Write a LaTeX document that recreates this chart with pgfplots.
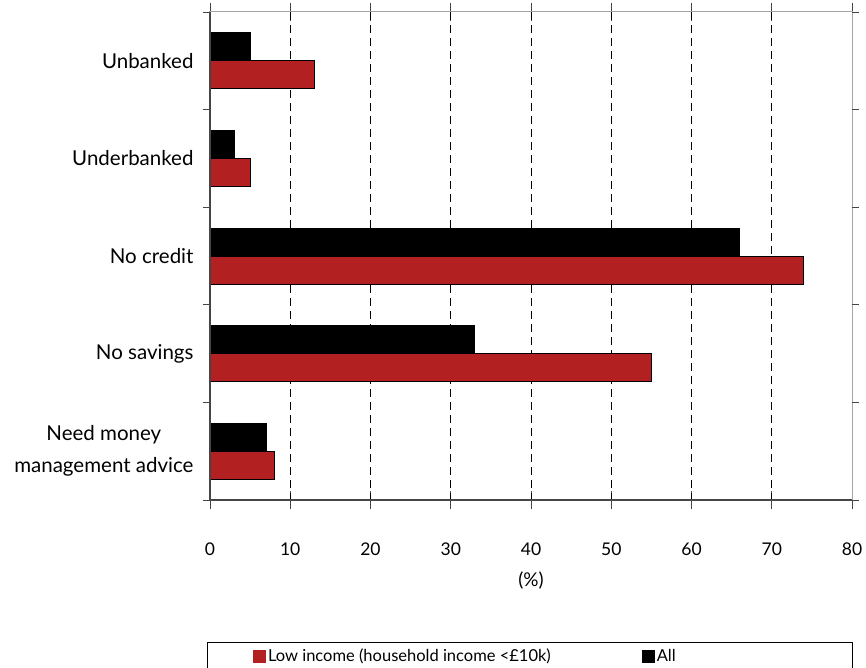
\documentclass[border=0pt]{standalone}
\usepackage{pgfplots}
\pgfplotsset{compat=1.18}
\usepackage{fontspec}
\setmainfont{Lato}
\definecolor{lowred}{RGB}{178,32,34}
\definecolor{frameg}{RGB}{165,165,165}
\definecolor{axisg}{RGB}{70,70,70}
\begin{document}
\begin{tikzpicture}
\begin{axis}[
  scale only axis, width=642pt, height=488pt,
  xbar, xmin=0, xmax=80, ymin=-0.5, ymax=4.5, y dir=reverse,
  bar width=28pt,
  /pgf/number format/assume math mode=true,
  ticklabel style={font=\fontsize{17.5}{20}\selectfont},
  xtick={0,10,...,80},
  xtick style={draw=axisg, line width=0.8pt},
  tick align=center, major tick length=18pt,
  xticklabel style={yshift=-30pt},
  extra x ticks={10,20,...,70},
  extra x tick labels={},
  extra x tick style={grid=major, major tick length=0pt},
  grid style={black, line width=0.9pt, dash pattern=on 8pt off 5pt},
  ytick={0,1,2,3,4},
  yticklabels={Unbanked, Underbanked, No credit, No savings, {Need money\\management advice}},
  yticklabel style={align=center, font=\fontsize{20.5}{32}\selectfont, xshift=-4pt},
  ytick style={draw=none},
  extra y ticks={-0.5,0.5,1.5,2.5,3.5,4.5},
  extra y tick labels={},
  extra y tick style={ytick style={draw=axisg, line width=0.8pt}, tick align=outside, major tick length=7pt},
  axis line style={draw=frameg, line width=1pt},
  xlabel={(\%)},
  xlabel style={font=\fontsize{19}{22}\selectfont, yshift=-1pt},
  legend columns=2,
  reverse legend,
  legend style={draw=none, fill=none, at={(axis description cs:0.067,-0.3197)}, anchor=west, inner sep=0pt,
    font=\fontsize{16.5}{20}\selectfont,
    nodes={inner xsep=2pt, inner ysep=2pt}},
]
\addplot[fill=black, draw=black, line width=0.8pt, bar shift=14pt,
  legend image code/.code={\fill[black] (0pt,-6pt) rectangle (12pt,6pt);}]
  coordinates {(5,0) (3,1) (66,2) (33,3) (7,4)};
\addplot[fill=lowred, draw=black, line width=0.8pt, bar shift=-14pt,
  legend image code/.code={\fill[lowred] (0pt,-6pt) rectangle (12pt,6pt);}]
  coordinates {(13,0) (5,1) (74,2) (55,3) (8,4)};
\legend{All, \makebox[372pt][l]{Low income (household income <£10k)}}
\end{axis}
\draw[axisg, line width=1.4pt] (0pt,488pt) -- (0pt,0pt) -- (642pt,0pt);
\draw[black, line width=0.8pt] (-3pt,-200pt) -- (-3pt,-142pt) -- (642pt,-142pt) -- (642pt,-200pt);
\pgfresetboundingbox
\useasboundingbox (-210pt,-168pt) rectangle (656pt,500pt);
\end{tikzpicture}
\end{document}
